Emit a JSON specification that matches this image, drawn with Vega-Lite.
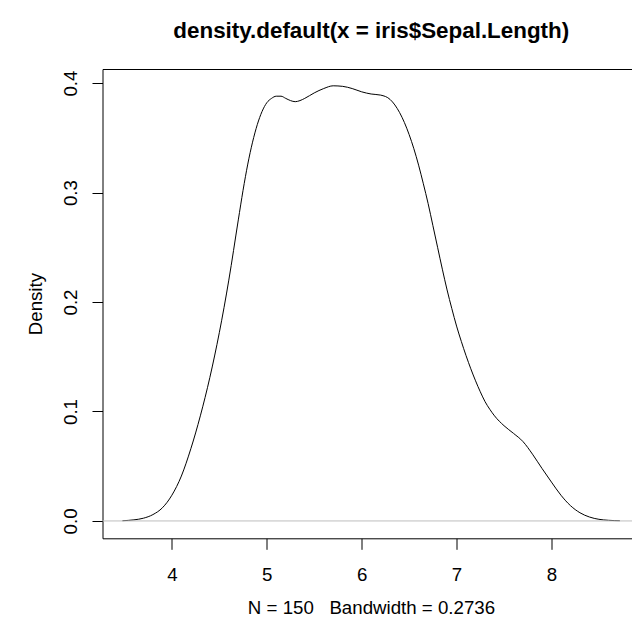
{
  "$schema": "https://vega.github.io/schema/vega-lite/v6.json",
  "autosize": {"type": "none"},
  "width": 529.5,
  "height": 469.3,
  "padding": {"left": 102.5, "top": 69, "right": 0, "bottom": 93.7},
  "background": "white",
  "config": {
    "view": {"stroke": null},
    "font": "Liberation Sans",
    "axis": {
      "grid": false,
      "domainColor": "black",
      "domainWidth": 1,
      "tickColor": "black",
      "tickWidth": 1,
      "labelColor": "black",
      "labelFont": "Liberation Sans",
      "labelFontSize": 18.7,
      "titleFont": "Liberation Sans",
      "titleFontSize": 18.7,
      "titleFontWeight": "normal",
      "titleColor": "black",
      "labelOverlap": false
    }
  },
  "title": {
    "text": "density.default(x = iris$Sepal.Length)",
    "font": "Liberation Sans",
    "fontSize": 22.4,
    "fontWeight": "bold",
    "color": "black",
    "anchor": "middle",
    "frame": "group",
    "dx": 4,
    "baseline": "alphabetic",
    "offset": 9
  },
  "data": {
    "values": [
      {"x": 3.479, "y": 0.0002},
      {"x": 3.6, "y": 0.001},
      {"x": 3.7, "y": 0.0025},
      {"x": 3.8, "y": 0.0058},
      {"x": 3.9, "y": 0.012},
      {"x": 4.0, "y": 0.0235},
      {"x": 4.1, "y": 0.041},
      {"x": 4.2, "y": 0.066},
      {"x": 4.3, "y": 0.096},
      {"x": 4.4, "y": 0.131},
      {"x": 4.5, "y": 0.172},
      {"x": 4.6, "y": 0.22},
      {"x": 4.7, "y": 0.275},
      {"x": 4.75, "y": 0.302},
      {"x": 4.8, "y": 0.326},
      {"x": 4.85, "y": 0.346},
      {"x": 4.9, "y": 0.362},
      {"x": 4.95, "y": 0.374},
      {"x": 5.0, "y": 0.382},
      {"x": 5.05, "y": 0.386},
      {"x": 5.1, "y": 0.388},
      {"x": 5.15, "y": 0.388},
      {"x": 5.2, "y": 0.386},
      {"x": 5.25, "y": 0.384},
      {"x": 5.3, "y": 0.383},
      {"x": 5.35, "y": 0.384},
      {"x": 5.4, "y": 0.386},
      {"x": 5.5, "y": 0.391},
      {"x": 5.6, "y": 0.395},
      {"x": 5.7, "y": 0.3975},
      {"x": 5.8, "y": 0.397},
      {"x": 5.9, "y": 0.395},
      {"x": 6.0, "y": 0.392},
      {"x": 6.1, "y": 0.39},
      {"x": 6.2, "y": 0.389},
      {"x": 6.3, "y": 0.385},
      {"x": 6.35, "y": 0.38},
      {"x": 6.4, "y": 0.373},
      {"x": 6.45, "y": 0.364},
      {"x": 6.5, "y": 0.353},
      {"x": 6.55, "y": 0.34},
      {"x": 6.6, "y": 0.325},
      {"x": 6.65, "y": 0.308},
      {"x": 6.7, "y": 0.29},
      {"x": 6.75, "y": 0.27},
      {"x": 6.8, "y": 0.25},
      {"x": 6.85, "y": 0.23},
      {"x": 6.9, "y": 0.211},
      {"x": 6.95, "y": 0.194},
      {"x": 7.0, "y": 0.178},
      {"x": 7.05, "y": 0.164},
      {"x": 7.1, "y": 0.151},
      {"x": 7.15, "y": 0.139},
      {"x": 7.2, "y": 0.128},
      {"x": 7.25, "y": 0.118},
      {"x": 7.3, "y": 0.109},
      {"x": 7.35, "y": 0.102},
      {"x": 7.4, "y": 0.096},
      {"x": 7.5, "y": 0.087},
      {"x": 7.6, "y": 0.08},
      {"x": 7.7, "y": 0.0725},
      {"x": 7.8, "y": 0.061},
      {"x": 7.9, "y": 0.048},
      {"x": 8.0, "y": 0.0355},
      {"x": 8.1, "y": 0.0235},
      {"x": 8.2, "y": 0.014},
      {"x": 8.3, "y": 0.0075},
      {"x": 8.4, "y": 0.0036},
      {"x": 8.5, "y": 0.0015},
      {"x": 8.6, "y": 0.0006},
      {"x": 8.721, "y": 0.0002}
    ]
  },
  "layer": [
    {
      "mark": {"type": "line", "color": "black", "strokeWidth": 1, "interpolate": "monotone", "clip": true},
      "encoding": {
        "x": {
          "field": "x",
          "type": "quantitative",
          "scale": {"domain": [3.269, 8.8486], "nice": false, "zero": false},
          "axis": {
            "orient": "bottom",
            "values": [4, 5, 6, 7, 8],
            "format": "d",
            "tickSize": 11,
            "labelPadding": 16,
            "title": "N = 150 \u00a0 Bandwidth = 0.2736",
            "titleX": 268.5,
            "titleY": 75,
            "titleAlign": "center",
            "titleBaseline": "alphabetic"
          }
        },
        "y": {
          "field": "y",
          "type": "quantitative",
          "scale": {"domain": [-0.01585, 0.41285], "nice": false, "zero": false},
          "axis": {
            "orient": "left",
            "values": [0, 0.1, 0.2, 0.3, 0.4],
            "format": ".1f",
            "tickSize": 10.5,
            "labelAngle": -90,
            "labelAlign": "center",
            "labelBaseline": "alphabetic",
            "labelPadding": 16,
            "title": "Density",
            "titleAngle": -90,
            "titleX": -61,
            "titleY": 234.6,
            "titleAlign": "center",
            "titleBaseline": "alphabetic"
          }
        }
      }
    },
    {
      "mark": {"type": "point", "opacity": 0},
      "encoding": {
        "x": {
          "field": "x",
          "type": "quantitative",
          "axis": {"orient": "top", "ticks": false, "labels": false, "title": null, "domain": true}
        }
      }
    },
    {
      "data": {"values": [{"zero": 0}]},
      "mark": {"type": "rule", "color": "#BEBEBE", "strokeWidth": 1},
      "encoding": {
        "y": {"field": "zero", "type": "quantitative"}
      }
    }
  ],
  "resolve": {"axis": {"x": "independent"}}
}
